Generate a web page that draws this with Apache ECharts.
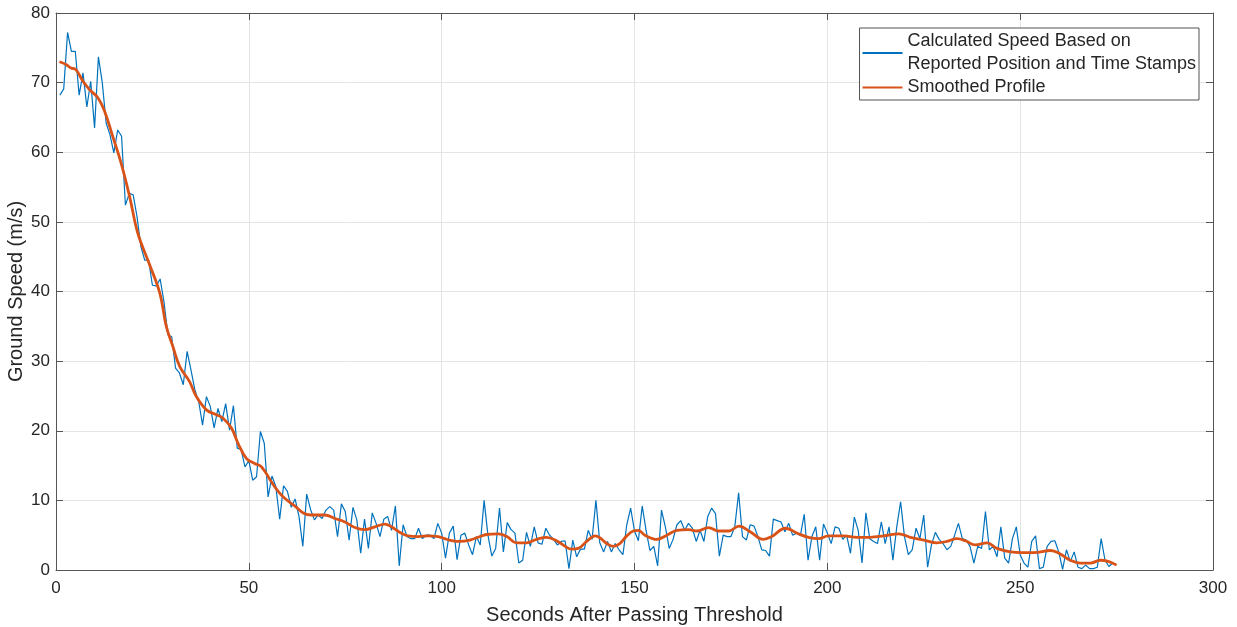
<!DOCTYPE html>
<html>
<head>
<meta charset="utf-8">
<title>Ground Speed After Threshold</title>
<script src="https://cdn.jsdelivr.net/npm/echarts@6/dist/echarts.min.js"></script>
<style>
  html, body { margin: 0; padding: 0; background: #ffffff; }
  #chart { width: 1237px; height: 627px; }
</style>
</head>
<body>
<div id="chart"></div>
<script>
// Raw speed samples, one per second starting at t = 1 s (m/s)
const rawStartSecond = 1;
const rawSpeed = [
  68.2, 69.1, 77.2, 74.5, 74.5, 68.2, 71.4, 66.5, 70.2, 63.5,
  73.7, 70.0, 64.2, 62.5, 59.9, 63.2, 62.3, 52.4, 54.1, 53.9,
  50.8, 46.5, 44.5, 44.5, 40.9, 40.8, 41.8, 38.5, 33.8, 33.5,
  29.0, 28.3, 26.6, 31.4, 28.7, 25.9, 24.2, 20.8, 24.9, 23.5,
  20.4, 23.2, 21.3, 23.9, 20.1, 23.6, 17.5, 17.3, 14.8, 15.7,
  12.9, 13.4, 19.9, 18.2, 10.5, 13.5, 12.0, 7.3, 12.1, 11.3,
  9.0, 10.2, 7.7, 3.4, 10.9, 8.7, 7.2, 7.9, 7.4, 8.6,
  9.1, 8.6, 4.8, 9.5, 8.4, 4.3, 9.0, 7.2, 2.4, 7.3,
  3.1, 8.2, 6.7, 4.8, 7.3, 7.7, 5.7, 9.2, 0.6, 6.5,
  4.8, 4.5, 4.5, 6.0, 4.5, 5.0, 5.0, 4.5, 6.7, 5.3,
  1.7, 5.3, 6.3, 1.5, 5.0, 5.3, 3.6, 2.2, 4.8, 3.6,
  10.0, 5.0, 2.0, 3.1, 8.9, 2.6, 6.8, 5.8, 5.3, 1.0,
  1.4, 5.4, 3.4, 6.2, 3.9, 3.7, 6.0, 5.0, 4.4, 3.6,
  4.1, 4.2, 0.2, 4.3, 1.9, 3.0, 3.0, 5.7, 4.4, 10.0,
  3.9, 2.6, 4.1, 2.6, 3.8, 2.9, 2.2, 6.5, 8.9, 5.6,
  4.2, 9.2, 5.7, 2.8, 3.4, 0.6, 8.6, 6.2, 3.1, 4.4,
  6.5, 7.1, 5.7, 6.7, 6.0, 4.1, 5.7, 4.1, 7.7, 8.9,
  8.1, 2.0, 5.0, 4.8, 4.8, 6.2, 11.1, 4.8, 4.3, 6.5,
  6.3, 4.8, 2.9, 2.8, 2.0, 7.3, 7.1, 6.9, 5.5, 6.7,
  5.0, 5.3, 4.9, 8.0, 1.4, 4.8, 6.2, 1.4, 6.6, 5.3,
  3.8, 6.2, 6.0, 4.4, 5.0, 2.4, 7.6, 5.7, 1.0, 8.2,
  4.5, 4.1, 3.8, 6.9, 3.8, 6.2, 1.4, 6.2, 9.8, 4.8,
  2.2, 2.9, 6.0, 4.5, 7.9, 0.4, 3.6, 5.4, 4.4, 3.8,
  2.9, 3.4, 5.0, 6.7, 4.5, 4.3, 3.4, 1.0, 3.4, 3.1,
  8.4, 2.9, 3.4, 1.9, 6.2, 1.7, 1.0, 4.5, 6.2, 2.2,
  1.0, 0.4, 4.1, 4.9, 0.2, 0.4, 3.4, 4.1, 4.2, 2.6,
  0.1, 2.9, 1.2, 2.6, 0.4, 0.2, 0.7, 0.2, 0.2, 0.4,
  4.5, 1.4, 0.5, 1.0
];

// Smoothed speed profile: time (s) and speed (m/s)
const smoothTime = [
  0.9, 2.6, 3.9, 5.1, 7.0, 8.7, 10.9, 12.6, 14.7, 16.9,
  19.1, 21.2, 24.3, 26.9, 28.6, 30.3, 32.1, 34.6, 36.4, 39.0,
  41.6, 43.3, 45.5, 47.2, 49.4, 51.5, 53.3, 55.8, 57.6, 59.3,
  61.9, 64.1, 66.2, 69.7, 72.3, 74.9, 77.5, 80.1, 82.7, 85.3,
  87.0, 89.2, 91.3, 93.9, 96.5, 99.1, 100.8, 102.0, 104.7, 107.3,
  109.9, 111.6, 114.7, 116.9, 119.4, 122.0, 124.6, 127.2, 129.8, 132.0,
  133.7, 135.4, 137.6, 139.8, 141.1, 142.8, 144.5, 146.2, 148.0, 149.7,
  151.0, 152.7, 155.8, 158.4, 161.0, 164.0, 166.2, 169.2, 171.8, 174.4,
  177.1, 180.0, 183.4, 185.6, 189.1, 192.5, 195.1, 197.7, 200.3, 204.2,
  207.7, 211.1, 214.6, 218.5, 221.5, 225.0, 228.4, 231.0, 233.6, 235.8,
  238.4, 241.4, 244.0, 247.5, 250.5, 253.5, 257.9, 260.4, 263.0, 265.6,
  268.2, 270.8, 273.0, 275.0
];
const smoothSpeed = [
  73.0, 72.6, 72.1, 71.9, 70.2, 69.0, 67.8, 65.9, 62.3, 58.4,
  53.6, 48.4, 43.8, 39.8, 35.0, 32.1, 29.2, 27.1, 24.9, 23.0,
  22.3, 21.8, 20.4, 18.2, 16.0, 15.3, 14.8, 12.7, 11.3, 10.3,
  9.2, 8.2, 7.9, 7.9, 7.4, 6.9, 6.1, 5.8, 6.2, 6.6,
  6.2, 5.4, 4.9, 4.8, 4.9, 4.8, 4.5, 4.3, 4.1, 4.3,
  4.8, 5.1, 5.2, 4.8, 3.9, 3.9, 4.4, 4.7, 4.2, 3.4,
  3.0, 3.1, 4.1, 4.9, 4.6, 3.8, 3.4, 3.8, 4.9, 5.6,
  5.7, 5.0, 4.4, 5.0, 5.7, 5.8, 5.6, 6.1, 5.6, 5.6,
  6.3, 5.5, 4.4, 4.8, 6.0, 5.2, 4.7, 4.5, 4.9, 4.9,
  4.7, 4.7, 4.9, 5.2, 4.7, 4.3, 3.9, 4.1, 4.5, 4.2,
  3.6, 3.9, 3.1, 2.6, 2.5, 2.5, 2.8, 2.3, 1.4, 1.0,
  1.0, 1.4, 1.2, 0.7
];

// Axis ranges and ticks
const xTicks = [0, 50, 100, 150, 200, 250, 300];
const yTicks = [0, 10, 20, 30, 40, 50, 60, 70, 80];

const seriesNames = [
  'Calculated Speed Based on\nReported Position and Time Stamps',
  'Smoothed Profile'
];
const axisTitles = { x: 'Seconds After Passing Threshold', y: 'Ground Speed (m/s)' };

const rawPoints = rawSpeed.map((v, i) => [rawStartSecond + i, v]);
const smoothPoints = smoothTime.map((t, i) => [t, smoothSpeed[i]]);

const FONT = 'Liberation Sans, Arial, Helvetica, sans-serif';
const AXIS_COLOR = '#555555';
const TEXT_COLOR = '#262626';
const GRID_COLOR = '#e4e4e4';
const BLUE = '#0072BD';
const ORANGE = '#D95319';

const xStep = xTicks[1] - xTicks[0];
const yStep = yTicks[1] - yTicks[0];

// Unlabelled top/right axes that close the plot box with inward ticks
function boxAxis(base, pos) {
  return Object.assign({
    position: pos,
    axisLine: { show: true, onZero: false, lineStyle: { color: AXIS_COLOR, width: 1 } },
    axisTick: { show: true, inside: true, length: 7, lineStyle: { color: AXIS_COLOR, width: 1 } },
    axisLabel: { show: false },
    splitLine: { show: false }
  }, base);
}

const chart = echarts.init(document.getElementById('chart'), null, { renderer: 'canvas' });

chart.setOption({
  animation: false,
  backgroundColor: '#ffffff',
  textStyle: { fontFamily: FONT },
  grid: { left: 56, right: 24, top: 13, bottom: 57, containLabel: false, outerBoundsMode: 'none' },
  legend: {
    orient: 'vertical',
    right: 38,
    top: 28,
    padding: [2, 3, 1, 3],
    itemGap: 0,
    itemWidth: 40,
    itemHeight: 2,
    backgroundColor: '#ffffff',
    borderColor: '#262626',
    borderWidth: 0.8,
    borderRadius: 0,
    textStyle: { fontFamily: FONT, fontSize: 18, color: TEXT_COLOR, lineHeight: 23 },
    data: [
      { name: seriesNames[0], icon: 'rect', itemStyle: { color: BLUE } },
      { name: seriesNames[1], icon: 'rect', itemStyle: { color: ORANGE } }
    ]
  },
  xAxis: [
    {
      type: 'value',
      min: xTicks[0], max: xTicks[xTicks.length - 1], interval: xStep,
      position: 'bottom',
      name: axisTitles.x,
      nameLocation: 'middle',
      nameGap: 35,
      nameTextStyle: { fontFamily: FONT, fontSize: 20, color: TEXT_COLOR },
      axisLine: { show: true, onZero: false, lineStyle: { color: AXIS_COLOR, width: 1 } },
      axisTick: { show: true, inside: true, length: 7, lineStyle: { color: AXIS_COLOR } },
      axisLabel: { show: true, margin: 10, fontFamily: FONT, fontSize: 17, color: TEXT_COLOR },
      splitLine: { show: true, lineStyle: { color: GRID_COLOR, width: 1 } }
    },
    boxAxis({ type: 'value', min: xTicks[0], max: xTicks[xTicks.length - 1], interval: xStep }, 'top')
  ],
  yAxis: [
    {
      type: 'value',
      min: yTicks[0], max: yTicks[yTicks.length - 1], interval: yStep,
      position: 'left',
      name: axisTitles.y,
      nameLocation: 'middle',
      nameGap: 30,
      nameMoveOverlap: false,
      nameTextStyle: { fontFamily: FONT, fontSize: 20, color: TEXT_COLOR },
      axisLine: { show: true, onZero: false, lineStyle: { color: AXIS_COLOR, width: 1 } },
      axisTick: { show: true, inside: true, length: 7, lineStyle: { color: AXIS_COLOR } },
      axisLabel: { show: true, margin: 6, fontFamily: FONT, fontSize: 17, color: TEXT_COLOR },
      splitLine: { show: true, lineStyle: { color: GRID_COLOR, width: 1 } }
    },
    boxAxis({ type: 'value', min: yTicks[0], max: yTicks[yTicks.length - 1], interval: yStep }, 'right')
  ],
  series: [
    {
      name: seriesNames[0],
      type: 'line',
      xAxisIndex: 0,
      yAxisIndex: 0,
      data: rawPoints,
      symbol: 'none',
      lineStyle: { color: BLUE, width: 1.2 },
      itemStyle: { color: BLUE },
      z: 2
    },
    {
      name: seriesNames[1],
      type: 'line',
      xAxisIndex: 0,
      yAxisIndex: 0,
      data: smoothPoints,
      symbol: 'none',
      smooth: 0.4,
      lineStyle: { color: ORANGE, width: 2.8 },
      itemStyle: { color: ORANGE },
      z: 3
    }
  ]
});
</script>
</body>
</html>
